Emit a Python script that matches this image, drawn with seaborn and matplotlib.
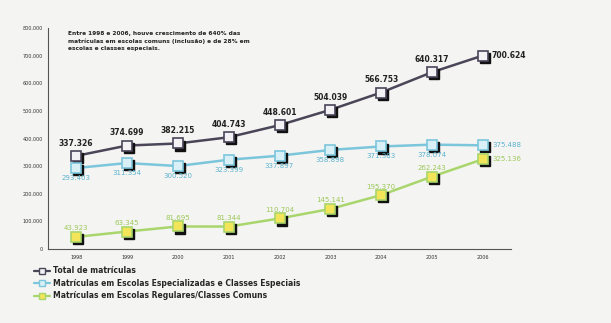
import matplotlib
matplotlib.use("Agg")
import matplotlib.pyplot as plt
import matplotlib.transforms as mtransforms
from matplotlib.lines import Line2D
import seaborn as sns
import pandas as pd

years = [1998, 1999, 2000, 2001, 2002, 2003, 2004, 2005, 2006]
total = [337326, 374699, 382215, 404743, 448601, 504039, 566753, 640317, 700624]
especiais = [293403, 311354, 300520, 323399, 337897, 358898, 371383, 378074, 375488]
comuns = [43923, 63345, 81695, 81344, 110704, 145141, 195370, 262243, 325136]
series_names = ["Total de matrículas",
                "Matrículas em Escolas Especializadas e Classes Especiais",
                "Matrículas em Escolas Regulares/Classes Comuns"]
y_ticks = [0, 100000, 200000, 300000, 400000, 500000, 600000, 700000, 800000]
y_tick_labels = ["0", "100.000", "200.000", "300.000", "400.000", "500.000",
                 "600.000", "700.000", "800.000"]
note = ("Entre 1998 e 2006, houve crescimento de 640% das\n"
        "matrículas em escolas comuns (inclusão) e de 28% em\n"
        "escolas e classes especiais.")

line_colors = ["#4b4558", "#7cc6dc", "#a9d66c"]
marker_faces = ["#f2f2f4", "#d8f0f6", "#f3e55a"]
label_colors = ["#222222", "#5bb3cf", "#9cc85a"]

df = pd.DataFrame({
    "ano": years * 3,
    "valor": total + especiais + comuns,
    "serie": [series_names[0]] * 9 + [series_names[1]] * 9 + [series_names[2]] * 9,
})

sns.set_style("white")
fig = plt.figure(figsize=(6.11, 3.23), dpi=100, facecolor="#f4f4f2")
ax = fig.add_axes([0.079, 0.229, 0.757, 0.684])
ax.set_facecolor("#f4f4f2")

pal = dict(zip(series_names, line_colors))
sns.lineplot(data=df, x="ano", y="valor", hue="serie", palette=pal, ax=ax,
             linewidth=1.8, legend=False, sort=False, zorder=2)

# marker shadows
shadow = ax.transData + mtransforms.ScaledTranslation(1.5 / 72, -1.5 / 72, fig.dpi_scale_trans)
for vals in (total, especiais, comuns):
    ax.plot(years, vals, linestyle="none", marker="s", markersize=7,
            color="#111111", transform=shadow, zorder=3)
for vals, lc, fc in zip((total, especiais, comuns), line_colors, marker_faces):
    ax.plot(years, vals, linestyle="none", marker="s", markersize=6.5,
            markerfacecolor=fc, markeredgecolor=lc, markeredgewidth=1.2, zorder=4)

def fmt(v):
    return f"{v:,}".replace(",", ".")

for i, (yr, v) in enumerate(zip(years, total)):
    if i == len(years) - 1:
        ax.annotate(fmt(v), (yr, v), xytext=(6, 0), textcoords="offset points",
                    ha="left", va="center", fontsize=5.5, fontweight="bold", color=label_colors[0])
    else:
        ax.annotate(fmt(v), (yr, v), xytext=(0, 6), textcoords="offset points",
                    ha="center", va="bottom", fontsize=5.5, fontweight="bold", color=label_colors[0])
for i, (yr, v) in enumerate(zip(years, especiais)):
    if i == len(years) - 1:
        ax.annotate(fmt(v), (yr, v), xytext=(7, 0), textcoords="offset points",
                    ha="left", va="center", fontsize=5, color=label_colors[1])
    else:
        ax.annotate(fmt(v), (yr, v), xytext=(0, -5), textcoords="offset points",
                    ha="center", va="top", fontsize=5, color=label_colors[1])
for i, (yr, v) in enumerate(zip(years, comuns)):
    if i == len(years) - 1:
        ax.annotate(fmt(v), (yr, v), xytext=(7, 0), textcoords="offset points",
                    ha="left", va="center", fontsize=5, color=label_colors[2])
    else:
        ax.annotate(fmt(v), (yr, v), xytext=(0, 4), textcoords="offset points",
                    ha="center", va="bottom", fontsize=5, color=label_colors[2])

ax.set_xlim(1997.45, 2006.55)
ax.set_ylim(0, 800000)
ax.set_yticks(y_ticks)
ax.set_yticklabels(y_tick_labels, fontsize=3.5, color="#333333")
ax.set_xticks(years)
ax.set_xticklabels([str(y) for y in years], fontsize=3.5, color="#333333")
ax.tick_params(axis="both", length=2, width=0.6, color="#555555", pad=2)
ax.set_xlabel("")
ax.set_ylabel("")
for s in ("top", "right"):
    ax.spines[s].set_visible(False)
for s in ("left", "bottom"):
    ax.spines[s].set_color("#555555")
    ax.spines[s].set_linewidth(0.8)

ax.text(0.043, 0.985, note, transform=ax.transAxes, ha="left", va="top",
        fontsize=4.2, fontweight="bold", color="#222222", linespacing=1.5)

handles = [Line2D([0], [0], color=lc, linewidth=1.6, marker="s", markersize=5,
                  markerfacecolor=fc, markeredgecolor=lc)
           for lc, fc in zip(line_colors, marker_faces)]
fig.legend(handles, series_names, loc="upper left", bbox_to_anchor=(0.05, 0.185),
           frameon=False, fontsize=5.5, handlelength=2.2, handletextpad=0.3,
           labelspacing=0.45, borderaxespad=0, prop={"size": 5.5, "weight": "bold"})

fig.savefig("out.png", dpi=100, facecolor=fig.get_facecolor())
